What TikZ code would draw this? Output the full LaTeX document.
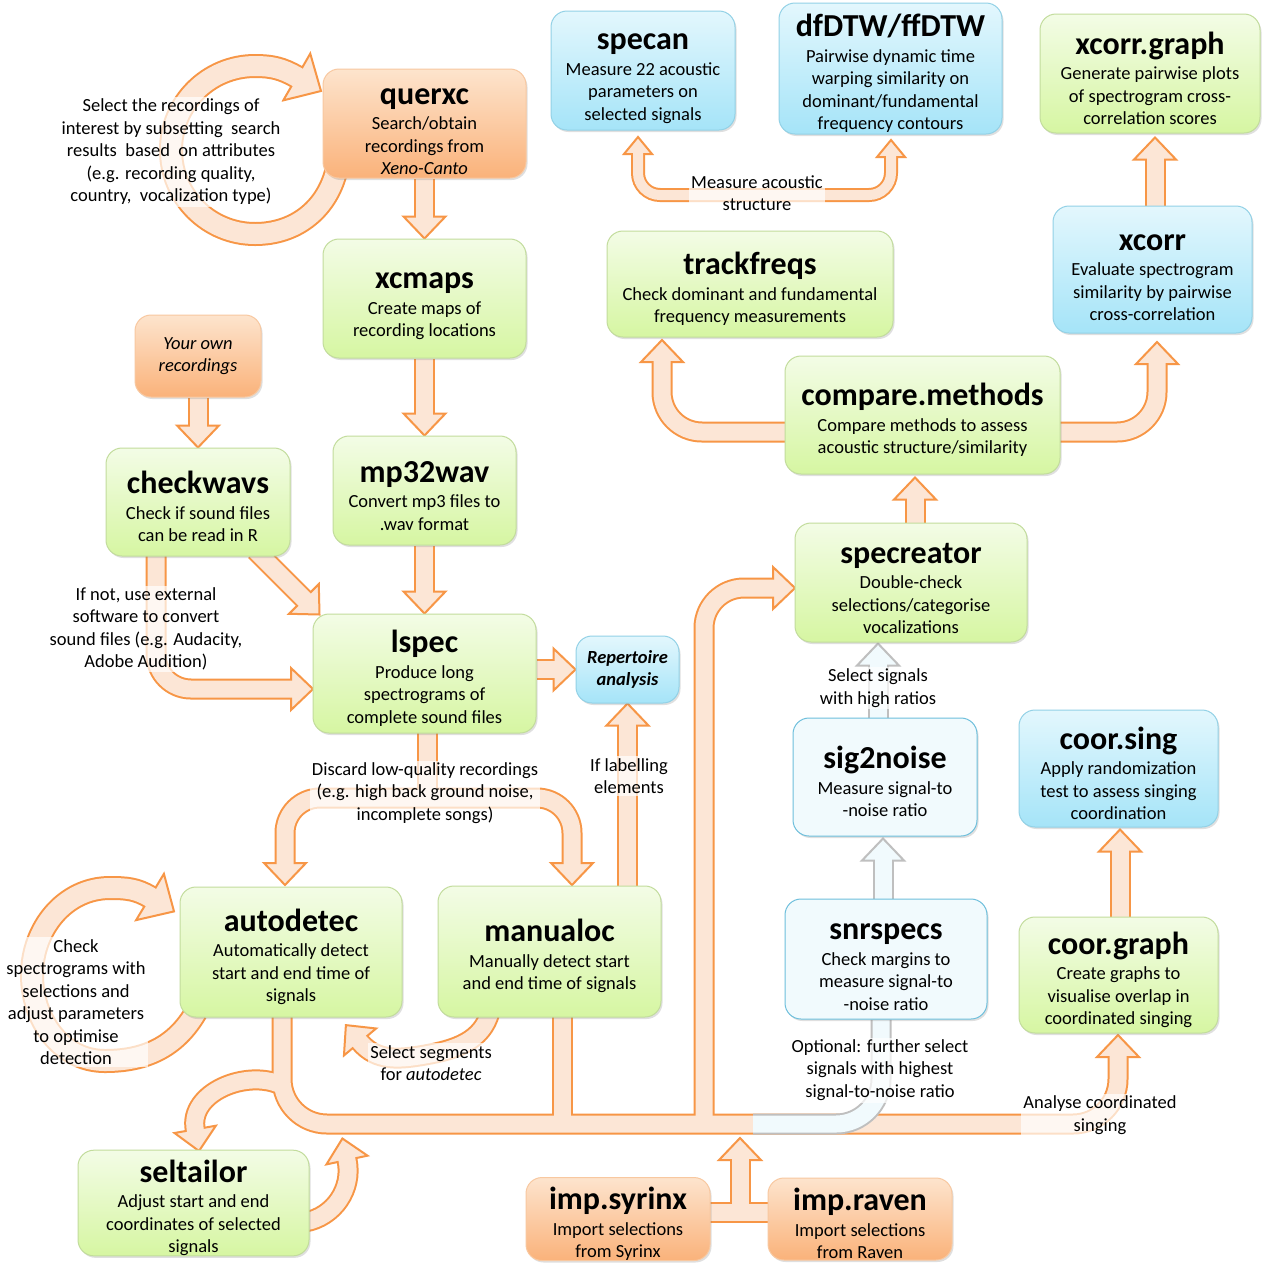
\documentclass[tikz,border=0pt]{standalone}
\usepackage{fontspec}
\setmainfont{Carlito}
\usetikzlibrary{calc,shadows}
\pgfdeclarelayer{bg}
\pgfsetlayers{bg,main}
\definecolor{aline}{HTML}{F79646}
\definecolor{afill}{HTML}{FCE6D6}
\definecolor{gline}{HTML}{BFBFBF}
\definecolor{lbfill}{HTML}{F1FAFD}
\definecolor{gtop}{HTML}{F3FCE6}
\definecolor{gbot}{HTML}{D6F6A2}
\definecolor{gbrd}{HTML}{C2DC9C}
\definecolor{btop}{HTML}{E3F7FD}
\definecolor{bbot}{HTML}{A5E4F8}
\definecolor{bbrd}{HTML}{92D1E6}
\definecolor{lbbrd}{HTML}{6DBFDC}
\definecolor{otop}{HTML}{FDE4CD}
\definecolor{obot}{HTML}{FAB27A}
\definecolor{obrd}{HTML}{F8C8A0}
\newcommand\bdf{\fontsize{18.5}{22.5}\selectfont}
\newcommand\ttlf{\fontsize{32}{34}\selectfont\bfseries}
\newcommand\bx[2]{{\ttlf\rule{0pt}{32pt}#1}\\[3pt]#2}
% arrow heads: tip, canvas angle
\newcommand\ahead[3][headst]{\filldraw[#1,shift={#2},rotate=#3] (0,0) -- (-22,21) -- (-22,-21) -- cycle;}
\newcommand\bhead[3][headst]{\filldraw[#1,shift={#2},rotate=#3] (0,0) -- (-28,27) -- (-28,-27) -- cycle;}
\newcommand\shead[3][headst]{\filldraw[#1,shift={#2},rotate=#3] (0,0) -- (-17,14) -- (-17,-14) -- cycle;}
% straight block arrow
\newcommand\sarrow[4][]{%
  \draw[sout#1] #2 -- ($#3+(#4+180:22pt)$);
  \ahead[headst#1]{#3}{#4}
  \draw[sin#1] #2 -- ($#3+(#4+180:20pt)$);}
% networks (two passes)
\newcommand\busnet[2]{%
  \draw[#1,rounded corners=45pt] (282,1017) -- (282,1124) -- (1118,1124) -- (1118,1057-#2);
  \draw[#1] (562,1017) -- (562,1124);
  \draw[#1,rounded corners=40pt] (704,1124) -- (704,588) -- (773+#2,588);
  \draw[#1] (710,1212) -- (768,1212);
  \draw[#1] (740,1212) -- (740,1160-#2);
  \draw[#1] (281,1085) to[out=155,in=100] (195.2,1129.3) -- ++(-80:#2pt+0.5pt);}
\newcommand\splitnet[2]{%
  \draw[#1,rounded corners=35pt] (285,863+#2) -- (285,798) -- (572,798) -- (572,863+#2);
  \draw[#1] (427,733) -- (427,798);}
\newcommand\cwnet[2]{\draw[#1,rounded corners=35pt] (156,556) -- (156,689) -- (291+#2,689);}
\newcommand\cmnet[2]{%
  \draw[#1,rounded corners=40pt] (785,432) -- (662,432) -- (662,362-#2);
  \draw[#1,rounded corners=40pt] (1060,432) -- (1157,432) -- (1157,364-#2);}
\newcommand\unet[2]{\draw[#1,rounded corners=22pt] (638,154-#2) -- (638,195) -- (891,195) -- (891,157-#2);}
\newcommand\qloop[2]{\draw[#1] (336,172) to[out=-105,in=0] (255,234) to[out=180,in=-90] (171,150) to[out=90,in=180] (255,66) to[out=0,in=150] (297,77) #2;}
\newcommand\aloop[2]{\draw[#1] (196,1012) to[out=-120,in=0] (105,1061) to[out=180,in=-90] (32,975) to[out=90,in=180] (110,888) to[out=0,in=149] (150,897) #2;}
\newcommand\sloopB[2]{\draw[#1] (305,1222) to[out=10,in=-78] (347,1160) #2;}
\newcommand\segloop[2]{\draw[#1] (490,1012) to[out=-105,in=10] (425,1055) to[out=190,in=-50] (360,1042) #2;}
\begin{document}
\begin{tikzpicture}[x=1pt,y=-1pt,
  sout/.style={draw=aline,line width=21pt},
  sin/.style={draw=afill,line width=17pt},
  headst/.style={draw=aline,fill=afill,line width=2pt,line join=miter},
  soutg/.style={draw=gline,line width=21pt},
  sing/.style={draw=lbfill,line width=17pt},
  headstg/.style={draw=gline,fill=lbfill,line width=2pt,line join=miter},
  lout/.style={draw=aline,line width=24pt},
  lin/.style={draw=afill,line width=20pt},
  tout/.style={draw=aline,line width=14pt},
  tin/.style={draw=afill,line width=10pt},
  box/.style={rounded corners=16pt,inner sep=0pt,align=center,font=\bdf,line width=1pt,
    drop shadow={shadow xshift=1.5pt,shadow yshift=-2pt,opacity=.25}},
  gbox/.style={box,draw=gbrd,top color=gtop,bottom color=gbot},
  bbox/.style={box,draw=bbrd,top color=btop,bottom color=bbot},
  lbbox/.style={box,draw=lbbrd,fill=lbfill},
  obox/.style={box,draw=obrd,top color=otop,bottom color=obot},
  sz/.style 2 args={minimum width=#1,minimum height=#2},
  lbl/.style={font=\bdf,align=center,fill=white,fill opacity=.7,text opacity=1,inner sep=2pt}]
\useasboundingbox (0,0) rectangle (1269,1262);

% ---------- boxes ----------
\node[obox,sz={203}{109}] (querxc) at (424.5,123.5) {\bx{querxc}{Search/obtain\\recordings from\\\textit{Xeno-Canto}}};
\node[gbox,sz={203}{119}] (xcmaps) at (424.5,298.5) {\bx{xcmaps}{Create maps of\\recording locations}};
\node[obox,sz={126}{82},font=\bdf\itshape] (own) at (198,356) {Your own\\recordings};
\node[gbox,sz={184}{108}] (checkwavs) at (198,502) {\bx{checkwavs}{Check if sound files\\can be read in R}};
\node[gbox,sz={183}{109}] (mp32wav) at (424.5,490.5) {\bx{mp32wav}{Convert mp3 files to\\.wav format}};
\node[gbox,sz={223}{119}] (lspec) at (424.5,673.5) {\bx{lspec}{Produce long\\spectrograms of\\complete sound files}};
\node[bbox,sz={103}{67},font=\bdf\bfseries\itshape] (rep) at (627.5,669.5) {Repertoire\\analysis};
\node[bbox,sz={184}{119}] (specan) at (643,70.5) {\bx{specan}{Measure 22 acoustic\\parameters on\\selected signals}};
\node[bbox,sz={223}{131}] (dfdtw) at (890.5,68.5) {\bx{dfDTW/ffDTW}{Pairwise dynamic time\\warping similarity on\\dominant/fundamental\\frequency contours}};
\node[gbox,sz={220}{119}] (xcg) at (1150,73.5) {\bx{xcorr.graph}{Generate pairwise plots\\of spectrogram cross-\\correlation scores}};
\node[gbox,sz={286}{106}] (trackfreqs) at (750,284) {\bx{trackfreqs}{Check dominant and fundamental\\frequency measurements}};
\node[bbox,sz={199}{127}] (xcorr) at (1152.5,269.5) {\bx{xcorr}{Evaluate spectrogram\\similarity by pairwise\\cross-correlation}};
\node[gbox,sz={275}{118}] (cm) at (922.5,415) {\bx{compare.methods}{Compare methods to assess\\acoustic structure/similarity}};
\node[gbox,sz={232}{119}] (specreator) at (911,582.5) {\bx{specreator}{Double-check\\selections/categorise\\vocalizations}};
\node[lbbox,sz={184}{118}] (sig2noise) at (885,777) {\bx{sig2noise}{Measure signal-to\\-noise ratio}};
\node[bbox,sz={199}{117}] (coorsing) at (1118.5,768.5) {\bx{coor.sing}{Apply randomization\\test to assess singing\\coordination}};
\node[lbbox,sz={202}{120}] (snrspecs) at (886,959) {\bx{snrspecs}{Check margins to\\measure signal-to\\-noise ratio}};
\node[gbox,sz={199}{116}] (coorgraph) at (1118.5,975) {\bx{coor.graph}{Create graphs to\\visualise overlap in\\coordinated singing}};
\node[gbox,sz={222}{130}] (autodetec) at (291,952) {\bx{autodetec}{Automatically detect\\start and end time of\\signals}};
\node[gbox,sz={223}{131}] (manualoc) at (549.5,951.5) {\bx{manualoc}{Manually detect start\\and end time of signals}};
\node[gbox,sz={231}{104}] (seltailor) at (193.5,1203) {\bx{seltailor}{Adjust start and end\\coordinates of selected\\signals}};
\node[obox,sz={184}{82}] (impsyrinx) at (618,1219) {\bx{imp.syrinx}{Import selections\\from Syrinx}};
\node[obox,sz={184}{82}] (impraven) at (860,1219) {\bx{imp.raven}{Import selections\\from Raven}};

% ---------- helper coordinates ----------
\coordinate (cm-in) at ($(cm.south)+(-7.5,3)$);
\coordinate (sp-out) at (cm-in |- specreator.north);
\coordinate (s2n-in) at ($(sig2noise.south)+(-2,2)$);
\coordinate (snr-out) at (s2n-in |- snrspecs.north);
\coordinate (spc-in) at ($(specreator.south)+(-33,1)$);
\coordinate (s2n-out) at (spc-in |- sig2noise.north);
\coordinate (cs-in) at ($(coorsing.south)+(1.5,2)$);
\coordinate (cg-out) at (cs-in |- coorgraph.north);
\coordinate (xg-in) at ($(xcg.south)+(5,4)$);
\coordinate (xc-out) at (xg-in |- xcorr.north);
\coordinate (cw-out) at ($(checkwavs.south east)+(-35,-6)$);
\coordinate (ls-in) at ($(lspec.north west)+(7,1)$);
\coordinate (rep-l) at (lspec.east |- rep.west);
\coordinate (ml-out) at (rep.south |- manualoc.north);

% ---------- connectors ----------
\begin{pgfonlayer}{bg}
\fill[white] (0,0) rectangle (1269,1262);
% loops
\qloop{lout}{-- ++(-30:0.5pt)}
\bhead{(321,91)}{-30}
\qloop{lin}{-- ++(-30:2.5pt)}
\aloop{lout}{-- ++(-31:0.5pt)}
\bhead{(174,911.4)}{-31}
\aloop{lin}{-- ++(-31:2.5pt)}
% straight arrows
\sarrow{(querxc.south)}{(xcmaps.north)}{-90}
\sarrow{(xcmaps.south)}{(mp32wav.north)}{-90}
\sarrow{(mp32wav.south)}{(lspec.north)}{-90}
\sarrow{(own.south)}{(checkwavs.north)}{-90}
\sarrow{(rep-l)}{(rep.west)}{0}
\sarrow{(ml-out)}{(rep.south)}{90}
\sarrow{(cw-out)}{(ls-in)}{-45}
\sarrow{(sp-out)}{(cm-in)}{90}
\sarrow{(cg-out)}{(cs-in)}{90}
\sarrow{(xc-out)}{(xg-in)}{90}
% checkwavs -> lspec (curved)
\cwnet{sout}{0}
\ahead{(313,689)}{0}
\cwnet{sin}{2}
% lspec split
\splitnet{sout}{0}
\ahead{(285,885)}{-90}
\ahead{(572,885)}{-90}
\splitnet{sin}{2}
% compare.methods arms
\cmnet{sout}{0}
\ahead{(662,340)}{90}
\ahead{(1157,342)}{90}
\cmnet{sin}{2}
% measure acoustic structure
\unet{tout}{0}
\shead{(638,137)}{90}
\shead{(891,140)}{90}
\unet{tin}{2}
% bus
\busnet{sout}{0}
\ahead{(795,588)}{0}
\ahead{(1118,1035)}{90}
\ahead{(740,1138)}{90}
\ahead{(199,1151)}{-80}
\busnet{sin}{2}
% seltailor -> bus
\sloopB{sout}{-- ++(102:0.5pt)}
\ahead{(342.4,1138.5)}{102}
\sloopB{sin}{-- ++(102:2.5pt)}
% select segments
\segloop{sout}{-- ++(130:0.5pt)}
\ahead{(345.9,1025.1)}{130}
\segloop{sin}{-- ++(130:2.5pt)}
% snrspecs band
\draw[soutg,rounded corners=45pt] (snrspecs.south -| 881,0) -- (881,1124) -- (753,1124);
\draw[sing,rounded corners=45pt] (snrspecs.south -| 881,0) -- (881,1124) -- (753,1124);
\sarrow[g]{(snr-out)}{(s2n-in)}{90}
\sarrow[g]{(s2n-out)}{(spc-in)}{90}
\end{pgfonlayer}

% ---------- labels ----------
\node[lbl] (l-sel) at (171,152) {Select the recordings of\\interest by subsetting\ \ search\\results\ \ based\ \ on attributes\\(e.g. recording quality,\\country,\ \ vocalization type)};
\node[lbl] (l-ifnot) at (146,629) {If not, use external\\software to convert\\sound files (e.g. Audacity,\\Adobe Audition)};
\node[lbl] (l-disc) at (425,793) {Discard low-quality recordings\\(e.g. high back ground noise,\\incomplete songs)};
\node[lbl] (l-iflab) at (629,776) {If labelling\\elements};
\node[lbl] (l-check) at (76,1002) {Check\\spectrograms with\\selections and\\adjust parameters\\to optimise\\detection};
\node[lbl] (l-seg) at (431,1063) {Select segments\\for \textit{autodetec}};
\node[lbl] (l-meas) at (757,193) {Measure acoustic\\structure};
\node[lbl] (l-selsig) at (878,688) {Select signals\\with high ratios};
\node[lbl] (l-opt) at (880,1070) {Optional: further select\\signals with highest\\signal-to-noise ratio};
\node[lbl] (l-coord) at (1100,1115) {Analyse coordinated\\singing};
\end{tikzpicture}
\end{document}
